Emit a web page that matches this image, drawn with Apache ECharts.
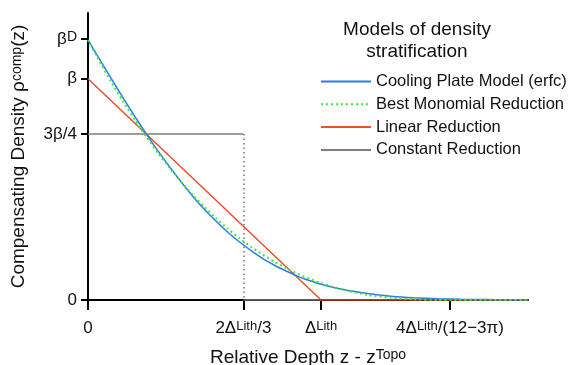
<!DOCTYPE html>
<html>
<head>
<meta charset="utf-8">
<script src="https://cdn.jsdelivr.net/npm/echarts@6/dist/echarts.min.js"></script>
<style>
  html, body { margin: 0; padding: 0; background: #fff; }
  #chart { width: 572px; height: 365px; }
</style>
</head>
<body>
<div id="chart"></div>
<script>
// Depth in units of the lithosphere thickness, density in units of beta.
const coolDepth = [0, 0.05, 0.1, 0.15, 0.2, 0.25, 0.3, 0.35, 0.4, 0.45, 0.5, 0.55, 0.6, 0.65, 0.7, 0.75, 0.8, 0.85, 0.9, 0.95, 1.0, 1.1, 1.2, 1.3, 1.4, 1.5, 1.6, 1.7, 1.8, 1.888];
const coolDensity = [1.175, 1.087, 1.000, 0.915, 0.831, 0.751, 0.674, 0.602, 0.533, 0.468, 0.409, 0.356, 0.306, 0.262, 0.223, 0.187, 0.157, 0.131, 0.107, 0.088, 0.071, 0.046, 0.029, 0.017, 0.010, 0.006, 0.003, 0.002, 0.001, 0.0005];

const monoDepth = [0, 0.05, 0.1, 0.15, 0.2, 0.25, 0.3, 0.35, 0.4, 0.45, 0.5, 0.55, 0.6, 0.65, 0.7, 0.75, 0.8, 0.85, 0.9, 0.95, 1.0, 1.1, 1.2, 1.3, 1.4, 1.5, 1.553, 1.7, 1.888];
const monoDensity = [1.175, 1.078, 0.985, 0.898, 0.815, 0.738, 0.665, 0.597, 0.534, 0.474, 0.420, 0.369, 0.322, 0.279, 0.240, 0.205, 0.173, 0.144, 0.118, 0.096, 0.076, 0.045, 0.023, 0.010, 0.003, 0.0001, 0, 0, 0];

const linearDepth = [0, 1, 1.888];
const linearDensity = [1, 0, 0];

const constDepth = [0, 0.6667, 0.6667, 0.6667, 1];
const constDensity = [0.75, 0.75, '-', 0, 0];

const xTickValues = [0, 0.6667, 1, 1.5533];
const xTickLabels = ['0', '2Δ{s|Lith}/3', 'Δ{s|Lith}', '4Δ{s|Lith}/(12−3π)'];
const yTickValues = [0, 0.75, 1, 1.179];
const yTickLabels = ['0', '3β/4', 'β', 'β{s|D}'];

const seriesNames = ['Cooling Plate Model (erfc)', 'Best Monomial Reduction', 'Linear Reduction', 'Constant Reduction'];
const colors = ['#2b7de6', '#3be83b', '#ea4f2b', '#877c7c'];

const zip = (xs, ys) => xs.map((x, i) => [x, ys[i]]);
const pick = (vals, labels) => v => {
  for (let i = 0; i < vals.length; i++) if (Math.abs(vals[i] - v) < 1e-3) return labels[i];
  return '';
};

const FONT = "'Liberation Sans', Arial, sans-serif";
const supStyle = size => ({ s: { fontSize: size, fontFamily: FONT, color: '#111', verticalAlign: 'top', lineHeight: 12, padding: [0, 0, 9, 0] } });

const chart = echarts.init(document.getElementById('chart'), null, { renderer: 'canvas' });
chart.setOption({
  animation: false,
  textStyle: { fontFamily: FONT },
  grid: { left: 88, right: 44, top: 13, bottom: 65, containLabel: false, outerBoundsMode: 'none' },
  graphic: [{
    type: 'text', left: 340, top: 19,
    style: { text: 'Models of density\nstratification', font: "19px " + FONT, fill: '#111', textAlign: 'center', lineHeight: 22, width: 154 }
  }],
  legend: {
    orient: 'vertical', left: 320, top: 73, padding: 0,
    itemWidth: 50, itemHeight: 12, itemGap: 5.8,
    itemStyle: { opacity: 0 },
    textStyle: { fontSize: 16.5, fontFamily: FONT, color: '#111', padding: [0, 0, 0, 0] },
    data: seriesNames
  },
  xAxis: {
    type: 'value', min: 0, max: 1.888,
    name: 'Relative Depth z - z{s|Topo}', nameLocation: 'middle', nameGap: 48,
    nameTextStyle: { fontSize: 19, color: '#111', fontFamily: FONT, rich: supStyle(14) },
    axisLine: { lineStyle: { color: '#000', width: 2 } },
    axisTick: { show: true, length: 10, lineStyle: { width: 2, color: '#000' }, customValues: xTickValues },
    axisLabel: {
      customValues: xTickValues, formatter: pick(xTickValues, xTickLabels), margin: 20,
      fontSize: 17, color: '#111', fontFamily: FONT, rich: supStyle(13)
    },
    splitLine: { show: false }
  },
  yAxis: {
    type: 'value', min: 0, max: 1.297,
    name: 'Compensating Density ρ{s|comp}(z)', nameLocation: 'middle', nameGap: 46,
    nameTextStyle: { fontSize: 19, color: '#111', fontFamily: FONT, rich: supStyle(14) },
    axisLine: { show: true, lineStyle: { color: '#000', width: 2 } },
    axisTick: { show: true, length: 7, lineStyle: { width: 2, color: '#000' }, customValues: yTickValues },
    axisLabel: {
      customValues: yTickValues, formatter: pick(yTickValues, yTickLabels), margin: 11,
      fontSize: 17, color: '#111', fontFamily: FONT, rich: supStyle(14)
    },
    splitLine: { show: false }
  },
  series: [
    {
      name: seriesNames[3], type: 'line', data: zip(constDepth, constDensity),
      symbol: 'none', color: colors[3], lineStyle: { width: 1.5, color: colors[3] }, z: 2,
      markLine: {
        silent: true, symbol: 'none', label: { show: false },
        lineStyle: { type: [1.5, 3], width: 1.5, color: '#777' },
        data: [[{ coord: [xTickValues[1], 0.75] }, { coord: [xTickValues[1], 0] }]]
      }
    },
    {
      name: seriesNames[2], type: 'line', data: zip(linearDepth, linearDensity),
      symbol: 'none', color: colors[2], lineStyle: { width: 1.5, color: colors[2] }, z: 3
    },
    {
      name: seriesNames[0], type: 'line', data: zip(coolDepth, coolDensity), smooth: 0.2,
      symbol: 'none', color: colors[0], lineStyle: { width: 1.5, color: colors[0] }, z: 4
    },
    {
      name: seriesNames[1], type: 'line', data: zip(monoDepth, monoDensity), smooth: 0.2,
      symbol: 'none', color: colors[1], lineStyle: { width: 2, type: [2, 3], color: colors[1] }, z: 5
    }
  ]
});
</script>
</body>
</html>
